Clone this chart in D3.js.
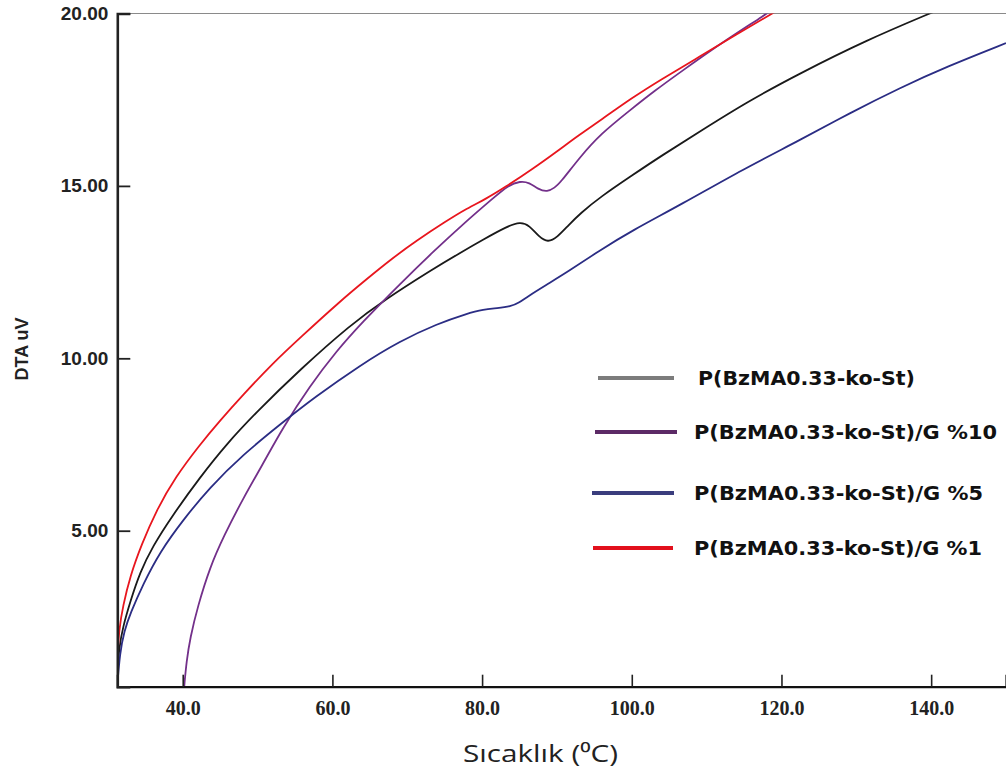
<!DOCTYPE html>
<html>
<head>
<meta charset="utf-8">
<script src="https://cdn.jsdelivr.net/npm/d3@7"></script>
<style>
  html, body { margin: 0; padding: 0; background: #fff; }
  svg { display: block; }
</style>
</head>
<body>
<div id="chart"></div>
<script>
// data: [temperature °C, DTA uV]
const seriesNames = [
    "P(BzMA0.33-ko-St)",
    "P(BzMA0.33-ko-St)/G %10",
    "P(BzMA0.33-ko-St)/G %5",
    "P(BzMA0.33-ko-St)/G %1"
];

const pure = [
    [31.26, 0.9], [31.5, 1.6], [32.0, 2.2], [33.0, 2.95], [34.3, 3.8], [36.0, 4.55], [38.5, 5.4],
    [42.3, 6.55], [46.0, 7.55], [49.9, 8.45], [55.7, 9.68], [62.4, 10.97], [67.0, 11.7],
    [73.5, 12.6], [77.0, 13.05], [80.2, 13.45], [83.3, 13.82], [85.1, 13.96], [86.3, 13.86],
    [87.6, 13.52], [88.8, 13.36], [90.0, 13.5], [91.5, 13.85], [93.1, 14.2], [95.8, 14.68],
    [100.0, 15.3], [104.0, 15.88], [109.1, 16.58], [115.5, 17.45], [122.5, 18.27],
    [131.4, 19.23], [139.8, 20.0], [142.0, 20.2]
];

const g10 = [
    [40.2, 0.48], [40.5, 1.2], [41.0, 1.9], [42.0, 2.8], [43.65, 3.95], [45.5, 4.85], [48.1, 5.95],
    [50.5, 6.85], [53.4, 8.0], [57.0, 9.2], [60.5, 10.2], [64.0, 11.05], [69.0, 12.15],
    [73.5, 13.1], [78.0, 14.0], [81.5, 14.65], [83.5, 15.02], [85.1, 15.14], [86.3, 15.1],
    [87.5, 14.9], [88.7, 14.82], [89.7, 14.95], [90.4, 15.08], [93.1, 15.84], [95.8, 16.5],
    [99.8, 17.2], [103.0, 17.75], [106.5, 18.3], [112.0, 19.15], [118.1, 20.0], [120.0, 20.3]
];

const g5 = [
    [31.26, 0.5], [31.6, 1.45], [32.2, 2.1], [33.0, 2.6], [34.7, 3.45], [37.0, 4.4], [40.0, 5.3],
    [43.6, 6.25], [48.0, 7.2], [53.4, 8.15], [57.5, 8.85], [63.7, 9.8], [69.0, 10.5],
    [74.0, 11.0], [78.0, 11.3], [80.2, 11.42], [82.0, 11.45], [83.8, 11.5], [85.0, 11.62],
    [86.0, 11.78], [88.5, 12.12], [91.4, 12.5], [95.8, 13.14], [100.0, 13.7], [106.5, 14.45],
    [115.0, 15.5], [122.5, 16.33], [129.0, 17.1], [135.9, 17.85], [142.0, 18.45], [150.0, 19.14]
];

const g1 = [
    [31.26, 1.25], [31.5, 2.15], [32.0, 2.8], [33.0, 3.7], [34.5, 4.6], [36.5, 5.6], [39.0, 6.55],
    [42.3, 7.5], [45.0, 8.2], [48.1, 8.95], [52.0, 9.85], [55.7, 10.6], [61.0, 11.65],
    [64.6, 12.3], [68.0, 12.9], [71.3, 13.42], [75.0, 13.95], [78.0, 14.35], [80.5, 14.62],
    [83.0, 14.95], [86.8, 15.5], [90.0, 16.0], [93.1, 16.5], [95.8, 16.9], [100.0, 17.55],
    [104.0, 18.1], [109.1, 18.75], [114.0, 19.4], [118.8, 20.0], [121.0, 20.3]
];

const xTicks = [40, 60, 80, 100, 120, 140];
const yTicks = [5, 10, 15, 20];

const seriesData = [pure, g10, g5, g1];
const lineColors = ["#1a1a1a", "#73308a", "#2b2d84", "#e8161e"];
const legendColors = ["#7c7c7c", "#5c2a66", "#3a3d7d", "#e2101c"];

// canvas
const width = 1006;
const height = 769;
const plotLeft = 117.3, plotRight = 1006, plotTop = 13.5, plotBottom = 686.7;

const svg = d3.select("#chart")
    .append("svg")
    .attr("width", width)
    .attr("height", height);

const x = d3.scaleLinear().domain([31.26, 150]).range([plotLeft, plotRight]);
const y = d3.scaleLinear().domain([0.476, 20]).range([plotBottom, plotTop]);

svg.append("clipPath")
    .attr("id", "plot-clip")
    .append("rect")
    .attr("x", plotLeft)
    .attr("y", plotTop)
    .attr("width", plotRight - plotLeft)
    .attr("height", plotBottom - plotTop);

// top frame line
svg.append("line")
    .attr("x1", plotLeft).attr("x2", plotRight)
    .attr("y1", plotTop).attr("y2", plotTop)
    .attr("stroke", "#8a8a8a")
    .attr("stroke-width", 1.2);

// curves (basis spline smooths the hand-read points)
const line = d3.line()
    .x(d => x(d[0]))
    .y(d => y(d[1]))
    .curve(d3.curveBasis);

svg.append("g")
    .attr("clip-path", "url(#plot-clip)")
    .selectAll("path")
    .data(seriesData)
    .enter()
    .append("path")
    .attr("d", line)
    .attr("fill", "none")
    .attr("stroke", (d, i) => lineColors[i])
    .attr("stroke-width", 1.8);

// axes
const xAxis = svg.append("g")
    .attr("transform", `translate(0,${plotBottom})`)
    .call(d3.axisBottom(x).tickValues(xTicks).tickSize(-12).tickPadding(14).tickFormat(d3.format(".1f")));
xAxis.select(".domain").attr("stroke", "#111").attr("stroke-width", 2.2);
xAxis.selectAll(".tick line").attr("stroke", "#222").attr("stroke-width", 1.6);
xAxis.selectAll(".tick text")
    .style("font-family", "'Liberation Serif', 'Times New Roman', serif")
    .style("font-weight", "bold")
    .style("font-size", "20px")
    .attr("fill", "#222");

const yAxis = svg.append("g")
    .attr("transform", `translate(${plotLeft},0)`)
    .call(d3.axisLeft(y).tickValues(yTicks).tickSize(-13).tickPadding(9).tickFormat(d3.format(".2f")));
yAxis.select(".domain").attr("stroke", "#222").attr("stroke-width", 2.6);
yAxis.selectAll(".tick line").attr("stroke", "#222").attr("stroke-width", 1.8);
yAxis.selectAll(".tick text")
    .style("font-family", "'Liberation Sans', Arial, sans-serif")
    .style("font-weight", "bold")
    .style("font-size", "19px")
    .attr("fill", "#222");

// axis titles
svg.append("text")
    .attr("transform", "translate(28,349) rotate(-90)")
    .attr("text-anchor", "middle")
    .style("font-family", "'Liberation Sans', Arial, sans-serif")
    .style("font-weight", "bold")
    .style("font-size", "18px")
    .attr("fill", "#222")
    .text("DTA uV");

svg.append("text")
    .attr("x", 463)
    .attr("y", 762)
    .attr("textLength", 155)
    .attr("lengthAdjust", "spacingAndGlyphs")
    .style("font-family", "'Open Sans', 'DejaVu Sans', sans-serif")
    .style("font-size", "24px")
    .attr("fill", "#222")
    .text("Sıcaklık (⁰C)");

// legend
const legendRows = [
    { y: 378, x1: 598, x2: 674, tx: 698, tw: 217 },
    { y: 432, x1: 595, x2: 677, tx: 694, tw: 303 },
    { y: 493, x1: 592, x2: 674, tx: 694, tw: 289 },
    { y: 548, x1: 593, x2: 673, tx: 694, tw: 288 }
];

const legend = svg.append("g")
    .selectAll("g")
    .data(seriesNames)
    .enter()
    .append("g");

legend.append("line")
    .attr("x1", (d, i) => legendRows[i].x1)
    .attr("x2", (d, i) => legendRows[i].x2)
    .attr("y1", (d, i) => legendRows[i].y)
    .attr("y2", (d, i) => legendRows[i].y)
    .attr("stroke", (d, i) => legendColors[i])
    .attr("stroke-width", 4);

legend.append("text")
    .attr("x", (d, i) => legendRows[i].tx)
    .attr("y", (d, i) => legendRows[i].y)
    .attr("dy", "0.35em")
    .attr("textLength", (d, i) => legendRows[i].tw)
    .attr("lengthAdjust", "spacingAndGlyphs")
    .style("font-family", "'DejaVu Sans', sans-serif")
    .style("font-weight", "bold")
    .style("font-size", "19px")
    .attr("fill", "#111")
    .text(d => d);
</script>
</body>
</html>
